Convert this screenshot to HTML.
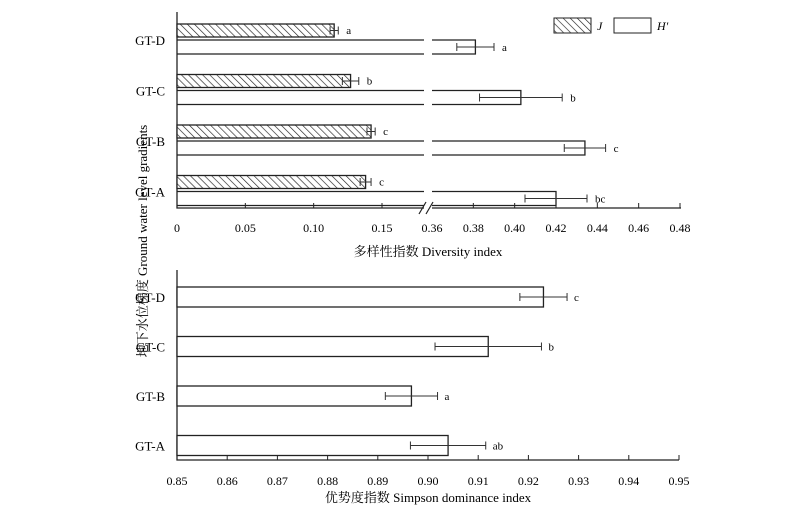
<!DOCTYPE html>
<html><head><meta charset="utf-8"><style>
body{margin:0;background:#fff}
svg{display:block;font-family:"Liberation Serif","Noto Serif CJK SC",serif}
</style></head><body>
<svg id="c" width="800" height="517" viewBox="0 0 800 517">
<defs><pattern id="hatch" patternUnits="userSpaceOnUse" width="5" height="5" patternTransform="rotate(-45)"><rect width="5" height="5" fill="#fff"/><line x1="0" y1="0" x2="0" y2="5" stroke="#222" stroke-width="1.3"/></pattern></defs>
<g id="topg"></g><g id="botg"></g>
<text x="147" y="241" transform="rotate(-90 147 241)" text-anchor="middle" font-size="13">地下水位梯度 Ground water level gradients</text>
<g>
<rect x="554" y="18" width="37" height="15" fill="url(#hatch)" stroke="#222"/>
<text x="597" y="30" font-size="12" font-style="italic">J</text>
<rect x="614" y="18" width="37" height="15" fill="#fff" stroke="#222"/>
<text x="657" y="30" font-size="12" font-style="italic">H′</text>
</g>
</svg>
<script>
const groups=["GT-D","GT-C","GT-B","GT-A"];
const jVals=[0.115,0.127,0.142,0.138];
const jErr=[0.003,0.006,0.003,0.004];
const jLetters=["a","b","c","c"];
const hVals=[0.381,0.403,0.434,0.420];
const hErr=[0.009,0.020,0.010,0.015];
const hLetters=["a","b","c","bc"];
const simpVals=[0.923,0.912,0.8967,0.904];
const simpErr=[0.0047,0.0106,0.0052,0.0075];
const simpLetters=["c","b","a","ab"];
const topLeftTicks=["0","0.05","0.10","0.15"];
const topLeftTickVals=[0,0.05,0.10,0.15];
const topRightTicks=["0.36","0.38","0.40","0.42","0.44","0.46","0.48"];
const topRightTickVals=[0.36,0.38,0.40,0.42,0.44,0.46,0.48];
const botTicks=["0.85","0.86","0.87","0.88","0.89","0.90","0.91","0.92","0.93","0.94","0.95"];
const botTickVals=[0.85,0.86,0.87,0.88,0.89,0.90,0.91,0.92,0.93,0.94,0.95];

const NS="http://www.w3.org/2000/svg";
function mk(parent,tag,attrs,text){const e=document.createElementNS(NS,tag);for(const k in attrs)e.setAttribute(k,attrs[k]);if(text!=null)e.textContent=text;parent.appendChild(e);return e;}
const xL=v=>177+v*(205/0.15);
const xR=v=>432+(v-0.36)*(248/0.12);
const xB=v=>177+(v-0.85)*(502/0.10);
const gTop=document.getElementById('topg'), gBot=document.getElementById('botg');
const S={stroke:"#222","stroke-width":1.3,fill:"none"};
function errbar(g,x1,x2,y,name){
 let e=mk(g,'path',{d:`M${x1},${y}H${x2}M${x1},${y-4}V${y+4}M${x2},${y-4}V${y+4}`,stroke:"#333","stroke-width":1,fill:"none"});
 
 
}
let a=mk(gTop,'path',{d:"M177,12V208H424M432,208H681",...S});


mk(gTop,'path',{d:"M419,214L426,202M426,214L433,202",stroke:"#222","stroke-width":1.2,fill:"none"});
topLeftTickVals.forEach((v,i)=>{const x=xL(v);if(i>0)mk(gTop,'line',{x1:x,x2:x,y1:208,y2:203,stroke:"#222"});
 let t=mk(gTop,'text',{x:x,y:232,"text-anchor":"middle","font-size":12},topLeftTicks[i]);
 
 });
topRightTickVals.forEach((v,i)=>{const x=xR(v);if(i>0)mk(gTop,'line',{x1:x,x2:x,y1:208,y2:203,stroke:"#222"});
 let t=mk(gTop,'text',{x:x,y:232,"text-anchor":"middle","font-size":12},topRightTicks[i]);
 
 });
let tt=mk(gTop,'text',{x:428,y:256,"text-anchor":"middle","font-size":13},"多样性指数 Diversity index");


groups.forEach((g,i)=>{
 const y0=24+i*50.5;
 let l=mk(gTop,'text',{x:165,y:y0+21,"text-anchor":"end","font-size":13},g);
 
 
 let b=mk(gTop,'rect',{x:177,y:y0,width:xL(jVals[i])-177,height:13,fill:"url(#hatch)",stroke:"#222","stroke-width":1.3});
 
 
 errbar(gTop,xL(jVals[i]-jErr[i]),xL(jVals[i]+jErr[i]),y0+6.5,'error-j');
 let lt=mk(gTop,'text',{x:xL(jVals[i]+jErr[i])+8,y:y0+10,"font-size":11},jLetters[i]);
 
 
 const yh=y0+16, xe=xR(hVals[i]);
 let h=mk(gTop,'path',{d:`M177,${yh}H424M177,${yh+14}H424M432,${yh}H${xe}V${yh+14}H432`,...S});
 
 
 errbar(gTop,xR(hVals[i]-hErr[i]),xR(hVals[i]+hErr[i]),yh+7,'error-h');
 let lh=mk(gTop,'text',{x:xR(hVals[i]+hErr[i])+8,y:yh+11,"font-size":11},hLetters[i]);
 
 
});
let ab=mk(gBot,'path',{d:"M177,270V460H679",...S});


botTickVals.forEach((v,i)=>{const x=xB(v);if(i>0)mk(gBot,'line',{x1:x,x2:x,y1:460,y2:455,stroke:"#222"});
 let t=mk(gBot,'text',{x:x,y:485,"text-anchor":"middle","font-size":12},botTicks[i]);
 
 });
let bt=mk(gBot,'text',{x:428,y:502,"text-anchor":"middle","font-size":13},"优势度指数 Simpson dominance index");


groups.forEach((g,i)=>{
 const y0=287+i*49.5;
 let l=mk(gBot,'text',{x:165,y:y0+15,"text-anchor":"end","font-size":13},g);
 
 
 let b=mk(gBot,'rect',{x:177,y:y0,width:xB(simpVals[i])-177,height:20,fill:"#fff",stroke:"#222","stroke-width":1.3});
 
 
 errbar(gBot,xB(simpVals[i]-simpErr[i]),xB(simpVals[i]+simpErr[i]),y0+10,'error-simpson');
 let lt=mk(gBot,'text',{x:xB(simpVals[i]+simpErr[i])+7,y:y0+14,"font-size":11},simpLetters[i]);
 
 
});
</script>
</body></html>
